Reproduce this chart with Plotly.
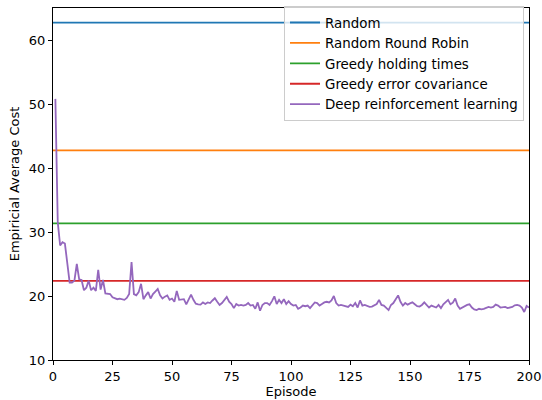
import plotly.graph_objects as go

episodes = list(range(1, 201))
drl_cost = [
    50.8, 31.5, 27.9, 28.4, 28.2, 25.2, 22.1, 22.1, 22.4, 25.0,
    22.6, 22.5, 20.9, 21.3, 22.4, 20.9, 21.3, 20.8, 24.1, 21.0,
    22.5, 20.4, 20.4, 20.3, 19.8, 19.6, 19.5, 19.6, 19.5, 19.4,
    19.7, 20.3, 25.3, 20.3, 20.1, 20.6, 21.9, 19.5, 20.1, 20.6,
    19.6, 20.3, 20.7, 21.1, 20.1, 19.6, 19.9, 20.1, 19.4, 19.6,
    19.1, 20.8, 19.4, 19.5, 19.5, 18.7, 19.6, 20.2, 19.4, 18.8,
    18.7, 18.65, 19.0, 18.75, 19.0, 18.9, 19.3, 19.65, 19.1, 18.6,
    18.9, 19.4, 19.85, 19.1, 18.75, 18.1, 18.75, 18.5, 18.6, 18.5,
    18.6, 18.9, 18.5, 18.6, 18.0, 19.0, 17.7, 18.6, 18.9, 18.9,
    18.6, 19.2, 19.95, 18.75, 19.4, 18.9, 19.5, 18.75, 19.2, 18.75,
    18.5, 18.6, 18.0, 18.2, 18.5, 18.4, 18.5, 18.1, 18.6, 19.0,
    18.9, 18.5, 18.75, 19.0, 19.1, 19.0, 19.3, 20.0, 18.9, 18.5,
    18.6, 18.5, 18.5, 18.3, 18.65, 18.4, 18.9, 18.2, 19.3, 18.5,
    18.6, 18.5, 18.3, 18.35, 18.6, 18.75, 19.4, 18.6, 18.5, 18.1,
    17.8, 18.6, 18.9, 19.5, 20.1, 19.1, 18.5, 18.9, 18.65, 18.85,
    19.0, 18.7, 18.4, 18.35, 18.6, 19.0, 18.55, 18.2, 18.5, 18.4,
    18.2, 18.6, 18.1, 18.7, 19.1, 19.4, 18.7, 18.95, 19.6, 18.5,
    18.0, 18.2, 18.5, 18.6, 18.7, 18.2, 17.9, 17.8, 18.0, 17.9,
    18.0, 18.1, 18.3, 18.2, 18.3, 18.65, 18.5, 18.2, 18.3, 18.3,
    18.1, 18.2, 18.3, 18.55, 18.6, 18.5, 18.2, 17.5, 18.45, 18.2,
]

baseline_names = ["Random", "Random Round Robin", "Greedy holding times", "Greedy error covariance"]
baseline_costs = [62.7, 42.75, 31.35, 22.35]
baseline_x = [0, 200]

colors = ["#1f77b4", "#ff7f0e", "#2ca02c", "#d62728", "#9467bd"]

x_ticks = [0, 25, 50, 75, 100, 125, 150, 175, 200]
y_ticks = [10, 20, 30, 40, 50, 60]

fig = go.Figure()
for name, cost, col in zip(baseline_names, baseline_costs, colors):
    fig.add_trace(go.Scatter(x=baseline_x, y=[cost, cost], mode="lines", name=name,
                             line=dict(color=col, width=1.8)))
fig.add_trace(go.Scatter(x=episodes, y=drl_cost, mode="lines", name="Deep reinforcement learning",
                         line=dict(color=colors[4], width=1.8)))

font = dict(family="DejaVu Sans", size=13, color="black")
axis_common = dict(showgrid=False, zeroline=False, showline=True, linecolor="black", linewidth=1,
                   mirror=True, ticks="outside", ticklen=4, tickwidth=1, tickcolor="black",
                   tickfont=font, automargin=False)
fig.update_layout(
    width=542, height=400,
    margin=dict(l=53, r=13, t=7, b=40),
    paper_bgcolor="white", plot_bgcolor="white",
    font=font,
    showlegend=True,
    legend=dict(x=0.9895, y=1.002, xanchor="right", yanchor="top",
                bgcolor="rgba(255,255,255,0.8)", bordercolor="#cccccc", borderwidth=1,
                font=dict(family="DejaVu Sans", size=13.4, color="black"),
                tracegroupgap=0, itemwidth=30),
    xaxis=dict(range=[0, 200], tickvals=x_ticks,
               title=dict(text="Episode", font=font, standoff=4), **axis_common),
    yaxis=dict(range=[10, 65], tickvals=y_ticks,
               title=dict(text="Empiricial Average Cost", font=font, standoff=6), **axis_common),
)

fig.write_html("out.html", config={"displayModeBar": False},
               post_script="document.body.style.margin='0';document.body.style.overflow='hidden';")
